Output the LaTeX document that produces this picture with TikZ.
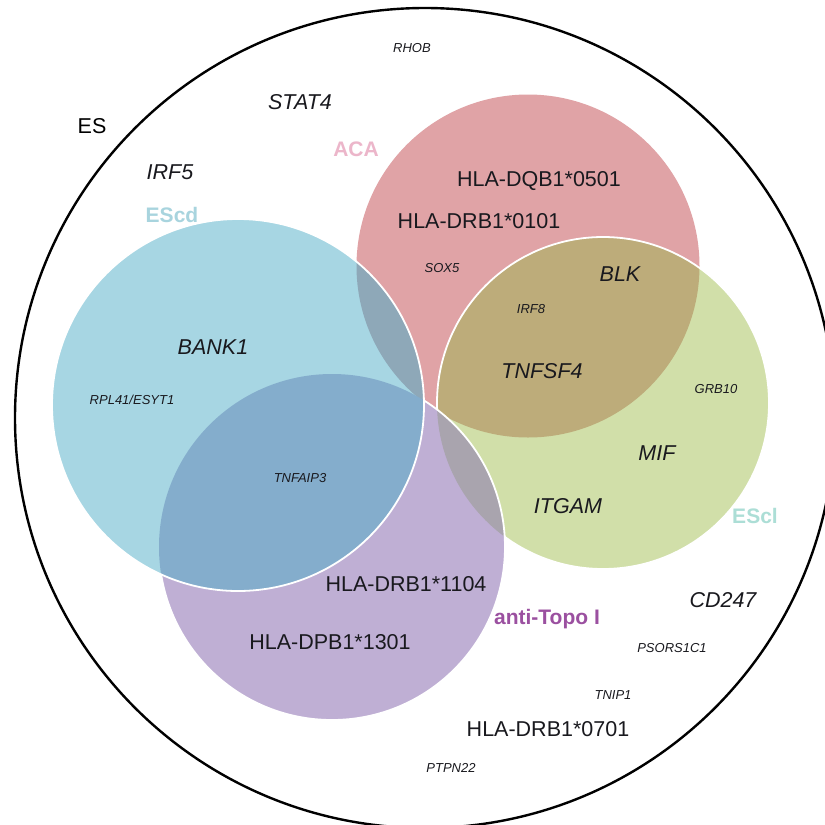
\documentclass[tikz,border=0pt]{standalone}
\usepackage{fontspec}
\setmainfont{Liberation Sans}
\definecolor{cblue}{RGB}{167,214,227}
\definecolor{cred}{RGB}{224,163,166}
\definecolor{cgreen}{RGB}{209,223,169}
\definecolor{cpurple}{RGB}{191,175,212}
\definecolor{cbp}{RGB}{132,173,204}
\definecolor{crg}{RGB}{189,172,122}
\definecolor{cbr}{RGB}{142,168,184}
\definecolor{cgp}{RGB}{169,164,174}
\definecolor{lblaca}{RGB}{236,182,202}
\definecolor{lblescd}{RGB}{168,212,222}
\definecolor{lblescl}{RGB}{172,222,214}
\definecolor{lbltopo}{RGB}{155,80,160}
\definecolor{txt}{RGB}{25,25,30}
\begin{document}
\begin{tikzpicture}[x=1pt,y=-1pt,
  big/.style={font=\fontsize{21.5}{24}\selectfont, inner sep=0pt, anchor=base, text=txt},
  bigit/.style={font=\fontsize{21.5}{24}\selectfont\itshape, inner sep=0pt, anchor=base, text=txt},
  smallit/.style={font=\fontsize{13}{15}\selectfont\itshape, inner sep=0pt, anchor=base, text=txt},
  setlabel/.style={font=\fontsize{21}{24}\selectfont\bfseries, inner sep=0pt, anchor=base},
  edge/.style={draw=white, line width=1.8pt}]
\useasboundingbox (0,0) rectangle (825,825);
\clip (0,0) rectangle (825,825);
\fill[white] (0,0) rectangle (825,825);

\coordinate (O) at (425,418);
\coordinate (R) at (528,266);
\coordinate (G) at (603,403);
\coordinate (P) at (332,547);
\coordinate (B) at (238,405);

% outer circle
\draw[line width=2.4pt, black] (O) circle[radius=410];

% red
\fill[cred] (R) circle[radius=171.5];
% green
\fill[cgreen] (G) circle[radius=166];
\begin{scope}
  \clip (G) circle[radius=166];
  \fill[crg] (R) circle[radius=171.5];
\end{scope}
\draw[edge] (G) circle[radius=166];
% purple
\fill[cpurple] (P) circle[radius=173];
\begin{scope}
  \clip (P) circle[radius=173];
  \fill[cgp] (G) circle[radius=166];
\end{scope}
\draw[edge] (P) circle[radius=173];
% blue
\fill[cblue] (B) circle[radius=186];
\begin{scope}
  \clip (B) circle[radius=186];
  \fill[cbr] (R) circle[radius=171.5];
  \fill[cbp] (P) circle[radius=173];
\end{scope}
\draw[edge] (B) circle[radius=186];

% set labels
\node[big, text=black] (es) at (92,133) {ES};
\node[setlabel, text=lblaca] (aca) at (356,156) {ACA};
\node[setlabel, text=lblescd] (escd) at (172,222) {EScd};
\node[setlabel, text=lblescl] (escl) at (755,523) {EScl};
\node[setlabel, text=lbltopo] (topo) at (547,624) {anti-Topo I};

% gene labels
\node[smallit] (rhob) at (412,52) {RHOB};
\node[bigit] (stat4) at (300,109) {STAT4};
\node[bigit] (irf5) at (170,179) {IRF5};
\node[big] (dqb) at (539,186) {HLA-DQB1*0501};
\node[big] (drb0101) at (479,228) {HLA-DRB1*0101};
\node[smallit] (sox5) at (442,272) {SOX5};
\node[bigit] (blk) at (620,281) {BLK};
\node[smallit] (irf8) at (531,313) {IRF8};
\node[bigit] (bank1) at (213,354) {BANK1};
\node[bigit] (tnfsf4) at (542,378) {TNFSF4};
\node[smallit] (rpl) at (132,404) {RPL41/ESYT1};
\node[smallit] (grb10) at (716,393) {GRB10};
\node[smallit] (tnfaip3) at (300,482) {TNFAIP3};
\node[bigit] (mif) at (657,460) {MIF};
\node[bigit] (itgam) at (568,513) {ITGAM};
\node[big] (drb1104) at (406,591) {HLA-DRB1*1104};
\node[bigit] (cd247) at (723,607) {CD247};
\node[big] (dpb) at (330,649) {HLA-DPB1*1301};
\node[smallit] (psors) at (672,652) {PSORS1C1};
\node[smallit] (tnip1) at (613,699) {TNIP1};
\node[big] (drb0701) at (548,736) {HLA-DRB1*0701};
\node[smallit] (ptpn22) at (451,772) {PTPN22};
\end{tikzpicture}
\end{document}
